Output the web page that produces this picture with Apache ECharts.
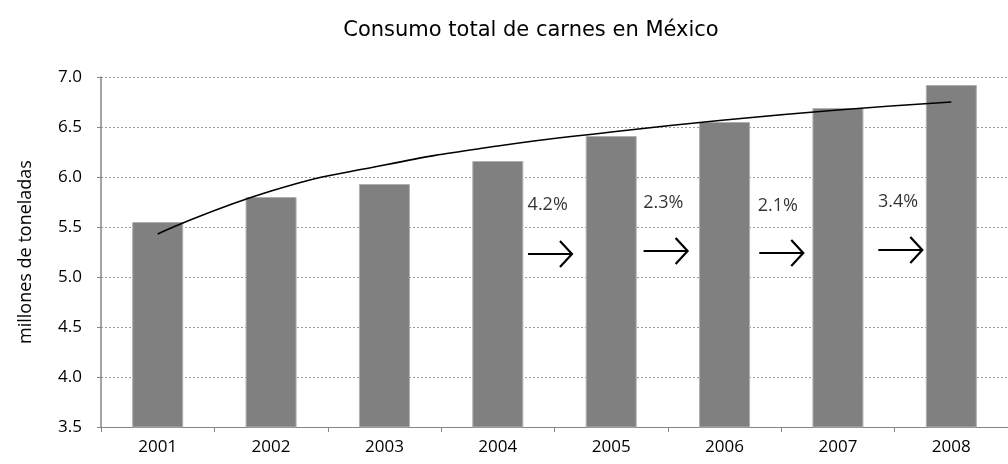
<!DOCTYPE html>
<html>
<head>
<meta charset="utf-8">
<script src="https://cdn.jsdelivr.net/npm/echarts@6/dist/echarts.min.js"></script>
<style>html,body{margin:0;padding:0;background:#fff;}#c{width:1008px;height:464px;}</style>
</head>
<body>
<div id="c"></div>
<script>
var years = ['2001','2002','2003','2004','2005','2006','2007','2008'];
var consumo = [5.55, 5.80, 5.93, 6.16, 6.41, 6.55, 6.69, 6.92];
var tendencia = [5.43, 5.86, 6.12, 6.31, 6.45, 6.57, 6.67, 6.75];
var pctLabels = ['4.2%', '2.3%', '2.1%', '3.4%'];
var pctX = [3.94, 4.96, 5.97, 7.03];
var pctY = [5.72, 5.74, 5.71, 5.75];
var arrowX = [3.96, 4.98, 6.00, 7.05];
var arrowY = [5.23, 5.26, 5.24, 5.27];

var FONT = 'Open Sans';
var chart = echarts.init(document.getElementById('c'));
chart.setOption({
  animation: false,
  title: {
    text: 'Consumo total de carnes en México',
    left: 526, top: 15, textAlign: 'center',
    textStyle: {fontFamily: 'DejaVu Sans', fontSize: 21, fontWeight: 'normal', color: '#000'}
  },
  grid: {left: 101, right: -6, top: 77, bottom: 37},
  xAxis: [{
    type: 'category', data: years,
    axisLine: {lineStyle: {color: '#868686', width: 1}},
    axisTick: {show: true, length: 5, lineStyle: {color: '#868686'}},
    axisLabel: {fontFamily: FONT, fontSize: 17, color: '#000', margin: 12}
  }, {
    type: 'value', min: 0, max: 8, show: false
  }],
  yAxis: {
    type: 'value', min: 3.5, max: 7, interval: 0.5,
    name: 'millones de toneladas', nameLocation: 'middle', nameGap: 66, nameRotate: 90,
    nameTextStyle: {fontFamily: FONT, fontSize: 18, color: '#000'},
    axisLine: {show: true, lineStyle: {color: '#868686', width: 1.5}},
    axisTick: {show: true, length: 4, lineStyle: {color: '#868686'}},
    axisLabel: {fontFamily: FONT, fontSize: 17, color: '#000', margin: 19, formatter: function(v){return v.toFixed(1);}},
    splitLine: {lineStyle: {color: '#9a9a9a', type: [2, 2], width: 1}}
  },
  series: [{
    type: 'bar', data: consumo, barWidth: 51,
    itemStyle: {color: '#808080', borderColor: '#b0b0b0', borderWidth: 1}
  }, {
    type: 'line', data: tendencia, smooth: 0.5, showSymbol: false, symbol: 'none',
    lineStyle: {color: '#000', width: 1.6}, z: 5
  }, {
    type: 'scatter', xAxisIndex: 1, symbolSize: 0,
    data: pctLabels.map(function(t, i){ return {name: t, value: [pctX[i], pctY[i]]}; }),
    label: {show: true, position: 'inside', formatter: '{b}', fontFamily: FONT, fontSize: 18, color: '#000'}
  }, {
    type: 'custom', xAxisIndex: 1,
    data: arrowX.map(function(x, i){ return [x, arrowY[i]]; }),
    renderItem: function(params, api){
      var p = api.coord([api.value(0), api.value(1)]);
      var cx = p[0], cy = p[1];
      return {type: 'group', children: [
        {type: 'line', shape: {x1: cx - 22, y1: cy, x2: cx + 22, y2: cy}, style: {stroke: '#000', lineWidth: 2}},
        {type: 'polyline', shape: {points: [[cx + 10, cy - 13], [cx + 22, cy], [cx + 10, cy + 13]]}, style: {stroke: '#000', lineWidth: 2.2, fill: null}}
      ]};
    }
  }]
});
</script>
</body>
</html>
